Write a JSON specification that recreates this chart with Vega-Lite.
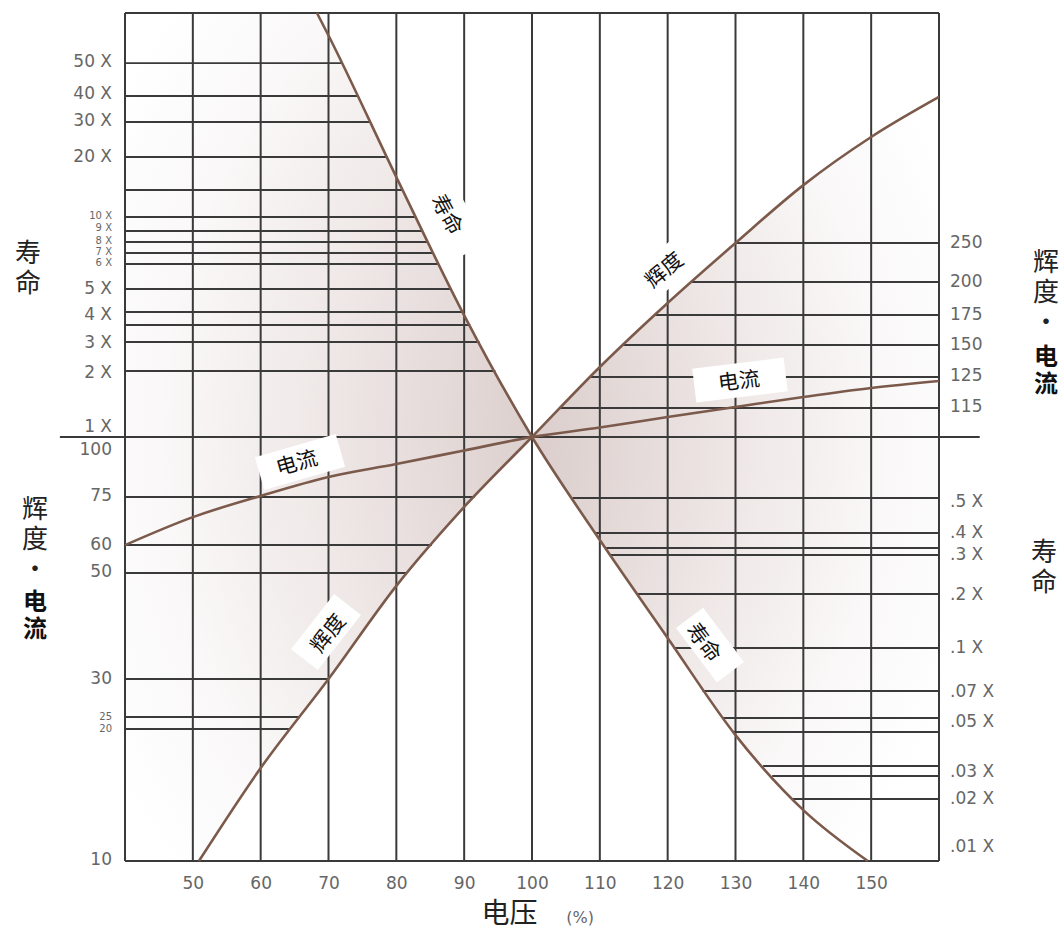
{
  "$schema": "https://vega.github.io/schema/vega-lite/v6.json",
  "width": 814,
  "height": 848,
  "autosize": {"type": "none"},
  "padding": {"left": 125, "top": 13, "right": 125, "bottom": 72},
  "background": "white",
  "config": {"view": {"stroke": null}},
  "datasets": {
    "vgrid": [{"v": 40}, {"v": 50}, {"v": 60}, {"v": 70}, {"v": 80}, {"v": 90}, {"v": 100}, {"v": 110}, {"v": 120}, {"v": 130}, {"v": 140}, {"v": 150}, {"v": 160}],
    "hgrid": [
      {"pos": 100, "from": 40, "to": 160},
      {"pos": -100, "from": 40, "to": 160},
      {"pos": 0, "from": 30.4, "to": 166.0},
      {"pos": 88.2, "from": 40, "to": 71.9},
      {"pos": 80.42, "from": 40, "to": 74.23},
      {"pos": 74.29, "from": 40, "to": 76.07},
      {"pos": 66.04, "from": 40, "to": 78.55},
      {"pos": 58.25, "from": 40, "to": 80.88},
      {"pos": 51.89, "from": 40, "to": 82.83},
      {"pos": 48.58, "from": 40, "to": 83.86},
      {"pos": 45.99, "from": 40, "to": 84.67},
      {"pos": 43.4, "from": 40, "to": 85.48},
      {"pos": 40.8, "from": 40, "to": 86.29},
      {"pos": 34.91, "from": 40, "to": 88.13},
      {"pos": 29.48, "from": 40, "to": 89.83},
      {"pos": 26.42, "from": 40, "to": 90.89},
      {"pos": 22.41, "from": 40, "to": 92.26},
      {"pos": 15.57, "from": 40, "to": 94.6},
      {"pos": -14.15, "from": 40, "to": 91.55},
      {"pos": -25.47, "from": 40, "to": 85.26},
      {"pos": -32.08, "from": 40, "to": 81.57},
      {"pos": -57.08, "from": 40, "to": 69.93},
      {"pos": -66.04, "from": 40, "to": 65.65},
      {"pos": -68.87, "from": 40, "to": 64.32},
      {"pos": 45.75, "from": 129.93, "to": 160},
      {"pos": 36.56, "from": 123.44, "to": 160},
      {"pos": 28.77, "from": 117.99, "to": 160},
      {"pos": 21.7, "from": 113.27, "to": 160},
      {"pos": 14.15, "from": 108.48, "to": 160},
      {"pos": 6.84, "from": 104.13, "to": 160},
      {"pos": -14.39, "from": 105.96, "to": 160},
      {"pos": -22.64, "from": 109.44, "to": 160},
      {"pos": -26.18, "from": 110.92, "to": 160},
      {"pos": -27.83, "from": 111.65, "to": 160},
      {"pos": -37.03, "from": 115.49, "to": 160},
      {"pos": -49.76, "from": 120.86, "to": 160},
      {"pos": -59.91, "from": 125.14, "to": 160},
      {"pos": -66.27, "from": 128.07, "to": 160},
      {"pos": -69.58, "from": 129.6, "to": 160},
      {"pos": -77.59, "from": 134.07, "to": 160},
      {"pos": -79.95, "from": 135.41, "to": 160},
      {"pos": -85.38, "from": 138.48, "to": 160}
    ],
    "curves": [
      {"curve": "寿命", "v": 68.3, "pos": 100},
      {"curve": "寿命", "v": 70, "pos": 94.7},
      {"curve": "寿命", "v": 80, "pos": 61.3},
      {"curve": "寿命", "v": 90, "pos": 28.7},
      {"curve": "寿命", "v": 100, "pos": 0},
      {"curve": "寿命", "v": 110, "pos": -24.3},
      {"curve": "寿命", "v": 120, "pos": -47.4},
      {"curve": "寿命", "v": 130, "pos": -70.3},
      {"curve": "寿命", "v": 140, "pos": -88.0},
      {"curve": "寿命", "v": 149.5, "pos": -100},
      {"curve": "辉度", "v": 50.9, "pos": -100},
      {"curve": "辉度", "v": 60, "pos": -78.07},
      {"curve": "辉度", "v": 70, "pos": -57.08},
      {"curve": "辉度", "v": 80, "pos": -35.1},
      {"curve": "辉度", "v": 90, "pos": -16.5},
      {"curve": "辉度", "v": 100, "pos": 0},
      {"curve": "辉度", "v": 110, "pos": 16.5},
      {"curve": "辉度", "v": 120, "pos": 31.6},
      {"curve": "辉度", "v": 130, "pos": 45.75},
      {"curve": "辉度", "v": 140, "pos": 59.4},
      {"curve": "辉度", "v": 150, "pos": 70.75},
      {"curve": "辉度", "v": 160, "pos": 80.2},
      {"curve": "电流", "v": 40, "pos": -25.5},
      {"curve": "电流", "v": 50, "pos": -18.9},
      {"curve": "电流", "v": 60, "pos": -13.9},
      {"curve": "电流", "v": 70, "pos": -9.43},
      {"curve": "电流", "v": 80, "pos": -6.37},
      {"curve": "电流", "v": 90, "pos": -3.18},
      {"curve": "电流", "v": 100, "pos": 0},
      {"curve": "电流", "v": 110, "pos": 2.24},
      {"curve": "电流", "v": 120, "pos": 4.72},
      {"curve": "电流", "v": 130, "pos": 7.08},
      {"curve": "电流", "v": 140, "pos": 9.43},
      {"curve": "电流", "v": 150, "pos": 11.56},
      {"curve": "电流", "v": 160, "pos": 13.2}
    ],
    "wedges": [
      {"wedge": "left", "v": 40, "top": 100, "bottom": -100},
      {"wedge": "left", "v": 50.9, "top": 100, "bottom": -100},
      {"wedge": "left", "v": 60, "top": 100, "bottom": -78.07},
      {"wedge": "left", "v": 68.3, "top": 100, "bottom": -60.65},
      {"wedge": "left", "v": 70, "top": 94.7, "bottom": -57.08},
      {"wedge": "left", "v": 80, "top": 61.3, "bottom": -35.1},
      {"wedge": "left", "v": 90, "top": 28.7, "bottom": -16.5},
      {"wedge": "left", "v": 100, "top": 0, "bottom": 0},
      {"wedge": "right", "v": 100, "top": 0, "bottom": 0},
      {"wedge": "right", "v": 110, "top": 16.5, "bottom": -24.3},
      {"wedge": "right", "v": 120, "top": 31.6, "bottom": -47.4},
      {"wedge": "right", "v": 130, "top": 45.75, "bottom": -70.3},
      {"wedge": "right", "v": 140, "top": 59.4, "bottom": -88.0},
      {"wedge": "right", "v": 149.5, "top": 70.2, "bottom": -100},
      {"wedge": "right", "v": 160, "top": 80.2, "bottom": -100}
    ],
    "ticklabels": [
      {"side": "left", "label": "50 X", "pos": 88.44},
      {"side": "left", "label": "40 X", "pos": 80.9},
      {"side": "left", "label": "30 X", "pos": 74.53},
      {"side": "left", "label": "20 X", "pos": 66.04},
      {"side": "left", "label": "10 X", "pos": 52.12},
      {"side": "left", "label": "9 X", "pos": 49.29},
      {"side": "left", "label": "8 X", "pos": 46.23},
      {"side": "left", "label": "7 X", "pos": 43.63},
      {"side": "left", "label": "6 X", "pos": 41.04},
      {"side": "left", "label": "5 X", "pos": 34.91},
      {"side": "left", "label": "4 X", "pos": 28.77},
      {"side": "left", "label": "3 X", "pos": 22.17},
      {"side": "left", "label": "2 X", "pos": 15.09},
      {"side": "left", "label": "1 X", "pos": 2.36},
      {"side": "left", "label": "100", "pos": -3.07},
      {"side": "left", "label": "75", "pos": -13.92},
      {"side": "left", "label": "60", "pos": -25.47},
      {"side": "left", "label": "50", "pos": -31.84},
      {"side": "left", "label": "30", "pos": -57.08},
      {"side": "left", "label": "25", "pos": -66.04},
      {"side": "left", "label": "20", "pos": -68.87},
      {"side": "left", "label": "10", "pos": -99.76},
      {"side": "right", "label": "250", "pos": 45.75},
      {"side": "right", "label": "200", "pos": 36.56},
      {"side": "right", "label": "175", "pos": 28.77},
      {"side": "right", "label": "150", "pos": 21.7},
      {"side": "right", "label": "125", "pos": 14.39},
      {"side": "right", "label": "115", "pos": 7.08},
      {"side": "right", "label": ".5 X", "pos": -15.33},
      {"side": "right", "label": ".4 X", "pos": -22.64},
      {"side": "right", "label": ".3 X", "pos": -27.83},
      {"side": "right", "label": ".2 X", "pos": -37.26},
      {"side": "right", "label": ".1 X", "pos": -49.76},
      {"side": "right", "label": ".07 X", "pos": -60.14},
      {"side": "right", "label": ".05 X", "pos": -67.22},
      {"side": "right", "label": ".03 X", "pos": -79.01},
      {"side": "right", "label": ".02 X", "pos": -85.38},
      {"side": "right", "label": ".01 X", "pos": -96.7}
    ],
    "titles": [
      {"part": "plain", "text": "寿\n命", "v": 25.7, "pos": 43.16},
      {"part": "plain", "text": "辉\n度\n·", "v": 26.73, "pos": -17.33},
      {"part": "bold", "text": "电\n流", "v": 26.73, "pos": -39.15},
      {"part": "plain", "text": "辉\n度\n·", "v": 175.77, "pos": 40.92},
      {"part": "bold", "text": "电\n流", "v": 175.77, "pos": 18.63},
      {"part": "plain", "text": "寿\n命", "v": 175.48, "pos": -27.36}
    ],
    "annot": [
      {"id": "a1", "text": "寿命", "v": 87.32, "pos": 52.36, "bv": 88.65, "bpos": 50.7},
      {"id": "a2", "text": "辉度", "v": 119.6, "pos": 39.15, "bv": 120.05, "bpos": 40.3},
      {"id": "a3", "text": "电流", "v": 130.52, "pos": 12.97, "bv": 130.66, "bpos": 13.44},
      {"id": "a4", "text": "电流", "v": 65.36, "pos": -6.37, "bv": 65.8, "bpos": -5.9},
      {"id": "a5", "text": "辉度", "v": 70.07, "pos": -46.46, "bv": 69.63, "bpos": -46.0},
      {"id": "a6", "text": "寿命", "v": 125.2, "pos": -48.6, "bv": 126.24, "bpos": -49.06}
    ]
  },
  "layer": [
    {
      "data": {"name": "wedges"},
      "transform": [{"filter": "datum.wedge == 'left'"}],
      "mark": {"type": "area", "fill": {"gradient": "radial", "x1": 1, "y1": 0.5, "x2": 1, "y2": 0.5, "r1": 0, "r2": 1, "stops": [{"offset": 0, "color": "#c8b5b2"}, {"offset": 0.25, "color": "#dccfcd"}, {"offset": 0.5, "color": "#eee7e6"}, {"offset": 0.7, "color": "#faf8f8"}, {"offset": 0.85, "color": "#ffffff"}]}},
      "encoding": {
        "x": {"field": "v", "type": "quantitative", "scale": {"domain": [40, 160], "nice": false, "zero": false},
          "axis": {"values": [50, 60, 70, 80, 90, 100, 110, 120, 130, 140, 150], "domain": false, "ticks": false, "tickSize": 0, "grid": false, "labelPadding": 14, "labelFont": "DejaVu Sans", "labelFontSize": 17, "labelColor": "#666", "labelFlush": false, "labelOverlap": false,
            "title": "电压", "titleFont": "Noto Sans CJK SC", "titleFontSize": 28, "titleFontWeight": "normal", "titleColor": "#222", "titleX": 384, "titleY": 53, "titleBaseline": "middle", "titleAlign": "center"}},
        "y": {"field": "top", "type": "quantitative", "scale": {"domain": [-100, 100], "nice": false, "zero": false}, "axis": null},
        "y2": {"field": "bottom"}
      }
    },
    {
      "data": {"name": "wedges"},
      "transform": [{"filter": "datum.wedge == 'right'"}],
      "mark": {"type": "area", "fill": {"gradient": "radial", "x1": 0, "y1": 0.446, "x2": 0, "y2": 0.446, "r1": 0, "r2": 1, "stops": [{"offset": 0, "color": "#c8b5b2"}, {"offset": 0.25, "color": "#dccfcd"}, {"offset": 0.5, "color": "#eee7e6"}, {"offset": 0.7, "color": "#faf8f8"}, {"offset": 0.85, "color": "#ffffff"}]}},
      "encoding": {
        "x": {"field": "v", "type": "quantitative"},
        "y": {"field": "top", "type": "quantitative", "axis": null},
        "y2": {"field": "bottom"}
      }
    },
    {
      "data": {"name": "vgrid"},
      "mark": {"type": "rule", "color": "#3a3a3a", "strokeWidth": 2},
      "encoding": {
        "x": {"field": "v", "type": "quantitative"},
        "y": {"datum": -100, "type": "quantitative", "axis": null},
        "y2": {"datum": 100}
      }
    },
    {
      "data": {"name": "hgrid"},
      "mark": {"type": "rule", "color": "#3a3a3a", "strokeWidth": 1.8},
      "encoding": {
        "x": {"field": "from", "type": "quantitative"},
        "x2": {"field": "to"},
        "y": {"field": "pos", "type": "quantitative", "axis": null}
      }
    },
    {"data": {"name": "annot"}, "transform": [{"filter": "datum.id == 'a1'"}], "mark": {"type": "point", "shape": "M -1 -0.545 L 1 -0.545 L 1 0.545 L -1 0.545 Z", "filled": true, "fill": "white", "opacity": 1, "strokeWidth": 0, "size": 4356, "angle": 61}, "encoding": {"x": {"field": "bv", "type": "quantitative"}, "y": {"field": "bpos", "type": "quantitative", "axis": null}}},
    {"data": {"name": "annot"}, "transform": [{"filter": "datum.id == 'a2'"}], "mark": {"type": "point", "shape": "M -1 -0.5 L 1 -0.5 L 1 0.5 L -1 0.5 Z", "filled": true, "fill": "white", "opacity": 1, "strokeWidth": 0, "size": 5184, "angle": -40}, "encoding": {"x": {"field": "bv", "type": "quantitative"}, "y": {"field": "bpos", "type": "quantitative", "axis": null}}},
    {"data": {"name": "annot"}, "transform": [{"filter": "datum.id == 'a3'"}], "mark": {"type": "point", "shape": "M -1 -0.37 L 1 -0.37 L 1 0.37 L -1 0.37 Z", "filled": true, "fill": "white", "opacity": 1, "strokeWidth": 0, "size": 8464, "angle": -7}, "encoding": {"x": {"field": "bv", "type": "quantitative"}, "y": {"field": "bpos", "type": "quantitative", "axis": null}}},
    {"data": {"name": "annot"}, "transform": [{"filter": "datum.id == 'a4'"}], "mark": {"type": "point", "shape": "M -1 -0.405 L 1 -0.405 L 1 0.405 L -1 0.405 Z", "filled": true, "fill": "white", "opacity": 1, "strokeWidth": 0, "size": 7056, "angle": -16}, "encoding": {"x": {"field": "bv", "type": "quantitative"}, "y": {"field": "bpos", "type": "quantitative", "axis": null}}},
    {"data": {"name": "annot"}, "transform": [{"filter": "datum.id == 'a5'"}], "mark": {"type": "point", "shape": "M -1 -0.486 L 1 -0.486 L 1 0.486 L -1 0.486 Z", "filled": true, "fill": "white", "opacity": 1, "strokeWidth": 0, "size": 4900, "angle": -52}, "encoding": {"x": {"field": "bv", "type": "quantitative"}, "y": {"field": "bpos", "type": "quantitative", "axis": null}}},
    {"data": {"name": "annot"}, "transform": [{"filter": "datum.id == 'a6'"}], "mark": {"type": "point", "shape": "M -1 -0.5 L 1 -0.5 L 1 0.5 L -1 0.5 Z", "filled": true, "fill": "white", "opacity": 1, "strokeWidth": 0, "size": 4624, "angle": 53}, "encoding": {"x": {"field": "bv", "type": "quantitative"}, "y": {"field": "bpos", "type": "quantitative", "axis": null}}},
    {
      "data": {"name": "curves"},
      "mark": {"type": "line", "color": "#7b5a4b", "strokeWidth": 2.6, "interpolate": "monotone"},
      "encoding": {
        "x": {"field": "v", "type": "quantitative"},
        "y": {"field": "pos", "type": "quantitative", "axis": null},
        "detail": {"field": "curve"}
      }
    },
    {"data": {"name": "annot"}, "transform": [{"filter": "datum.id == 'a1'"}], "mark": {"type": "text", "font": "Noto Sans CJK SC", "fontSize": 21, "fill": "#111", "align": "center", "baseline": "middle", "angle": 61}, "encoding": {"x": {"field": "v", "type": "quantitative"}, "y": {"field": "pos", "type": "quantitative", "axis": null}, "text": {"field": "text"}}},
    {"data": {"name": "annot"}, "transform": [{"filter": "datum.id == 'a2'"}], "mark": {"type": "text", "font": "Noto Sans CJK SC", "fontSize": 21, "fill": "#111", "align": "center", "baseline": "middle", "angle": -40}, "encoding": {"x": {"field": "v", "type": "quantitative"}, "y": {"field": "pos", "type": "quantitative", "axis": null}, "text": {"field": "text"}}},
    {"data": {"name": "annot"}, "transform": [{"filter": "datum.id == 'a3'"}], "mark": {"type": "text", "font": "Noto Sans CJK SC", "fontSize": 21, "fill": "#111", "align": "center", "baseline": "middle", "angle": -7}, "encoding": {"x": {"field": "v", "type": "quantitative"}, "y": {"field": "pos", "type": "quantitative", "axis": null}, "text": {"field": "text"}}},
    {"data": {"name": "annot"}, "transform": [{"filter": "datum.id == 'a4'"}], "mark": {"type": "text", "font": "Noto Sans CJK SC", "fontSize": 21, "fill": "#111", "align": "center", "baseline": "middle", "angle": -16}, "encoding": {"x": {"field": "v", "type": "quantitative"}, "y": {"field": "pos", "type": "quantitative", "axis": null}, "text": {"field": "text"}}},
    {"data": {"name": "annot"}, "transform": [{"filter": "datum.id == 'a5'"}], "mark": {"type": "text", "font": "Noto Sans CJK SC", "fontSize": 21, "fill": "#111", "align": "center", "baseline": "middle", "angle": -52}, "encoding": {"x": {"field": "v", "type": "quantitative"}, "y": {"field": "pos", "type": "quantitative", "axis": null}, "text": {"field": "text"}}},
    {"data": {"name": "annot"}, "transform": [{"filter": "datum.id == 'a6'"}], "mark": {"type": "text", "font": "Noto Sans CJK SC", "fontSize": 21, "fill": "#111", "align": "center", "baseline": "middle", "angle": 53}, "encoding": {"x": {"field": "v", "type": "quantitative"}, "y": {"field": "pos", "type": "quantitative", "axis": null}, "text": {"field": "text"}}},
    {
      "data": {"name": "ticklabels"},
      "transform": [{"filter": "datum.side == 'left' && indexof(['10 X','9 X','8 X','7 X','6 X','25','20'], datum.label) < 0"}],
      "mark": {"type": "text", "align": "right", "baseline": "middle", "dx": -13, "font": "DejaVu Sans", "fontSize": 17, "fill": "#666"},
      "encoding": {"x": {"datum": 40, "type": "quantitative"}, "y": {"field": "pos", "type": "quantitative", "axis": null}, "text": {"field": "label"}}
    },
    {
      "data": {"name": "ticklabels"},
      "transform": [{"filter": "datum.side == 'left' && indexof(['10 X','9 X','8 X','7 X','6 X','25','20'], datum.label) >= 0"}],
      "mark": {"type": "text", "align": "right", "baseline": "middle", "dx": -13, "font": "DejaVu Sans", "fontSize": 10, "fill": "#666"},
      "encoding": {"x": {"datum": 40, "type": "quantitative"}, "y": {"field": "pos", "type": "quantitative", "axis": null}, "text": {"field": "label"}}
    },
    {
      "data": {"name": "ticklabels"},
      "transform": [{"filter": "datum.side == 'right'"}],
      "mark": {"type": "text", "align": "left", "baseline": "middle", "dx": 11, "font": "DejaVu Sans", "fontSize": 17, "fill": "#666"},
      "encoding": {"x": {"datum": 160, "type": "quantitative"}, "y": {"field": "pos", "type": "quantitative", "axis": null}, "text": {"field": "label"}}
    },
    {
      "data": {"name": "titles"},
      "transform": [{"filter": "datum.part == 'plain'"}],
      "mark": {"type": "text", "align": "center", "baseline": "middle", "lineBreak": "\n", "lineHeight": 30, "font": "Noto Sans CJK SC", "fontSize": 26, "fill": "#222"},
      "encoding": {"x": {"field": "v", "type": "quantitative"}, "y": {"field": "pos", "type": "quantitative", "axis": null}, "text": {"field": "text"}}
    },
    {
      "data": {"name": "titles"},
      "transform": [{"filter": "datum.part == 'bold'"}],
      "mark": {"type": "text", "align": "center", "baseline": "middle", "lineBreak": "\n", "lineHeight": 27, "font": "Noto Sans CJK SC", "fontSize": 24, "fontWeight": "bold", "fill": "#111"},
      "encoding": {"x": {"field": "v", "type": "quantitative"}, "y": {"field": "pos", "type": "quantitative", "axis": null}, "text": {"field": "text"}}
    },
    {
      "data": {"values": [{"label": "(%)", "v": 107.08, "pos": -113.4}]},
      "mark": {"type": "text", "align": "center", "baseline": "middle", "font": "DejaVu Sans", "fontSize": 16, "fill": "#666"},
      "encoding": {"x": {"field": "v", "type": "quantitative"}, "y": {"field": "pos", "type": "quantitative", "axis": null}, "text": {"field": "label"}}
    }
  ]
}
